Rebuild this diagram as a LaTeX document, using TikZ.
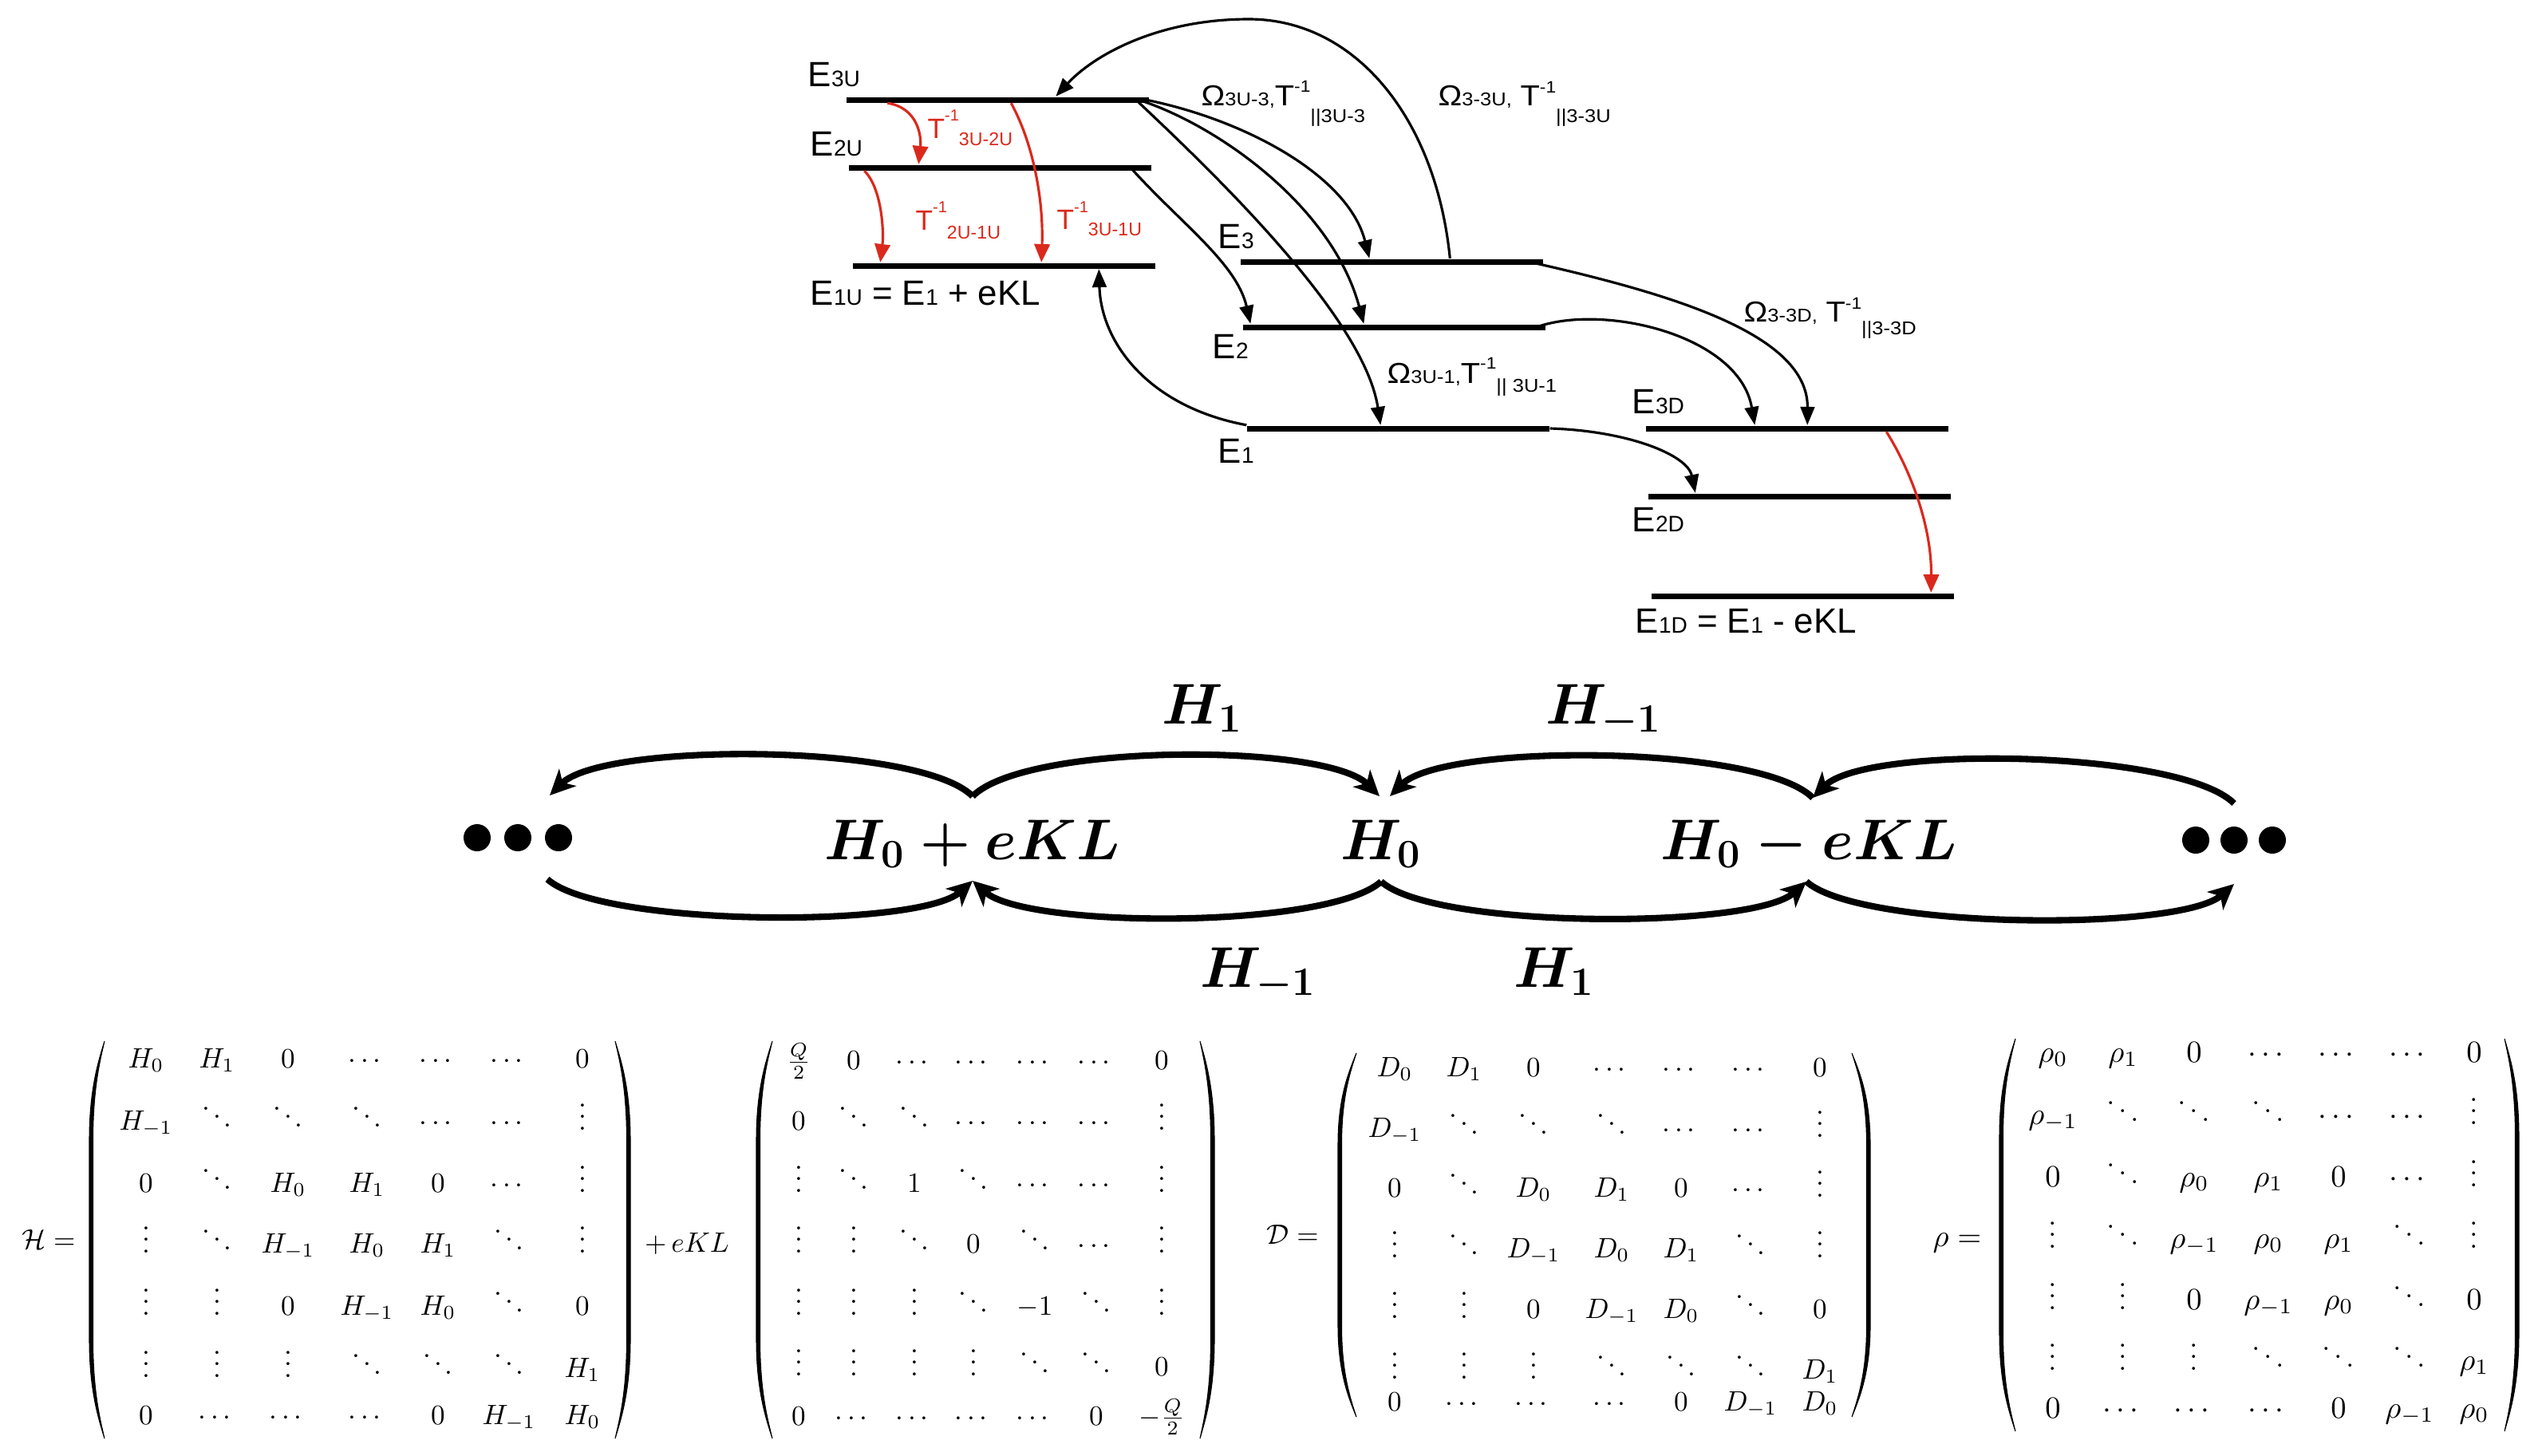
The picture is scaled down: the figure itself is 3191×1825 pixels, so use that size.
\documentclass[tikz,border=0pt]{standalone}
\usepackage{fix-cm}
\usepackage{amsmath}
\usepackage{fontspec}
\newfontfamily\labfont{Liberation Sans}
\newfontfamily\labfontw[FakeStretch=1.1]{Liberation Sans}
\usetikzlibrary{arrows.meta,calc}
\definecolor{tred}{RGB}{218,41,28}
\newcommand\Ebig{\fontsize{12.5}{14}\selectfont}
\newcommand\Esub{\fontsize{8}{9}\selectfont}
\newcommand\Obig{\fontsize{10.3}{12}\selectfont}
\newcommand\Osub{\fontsize{6.6}{7}\selectfont}
\newcommand\Osup{\fontsize{5.9}{6}\selectfont}
\newcommand\Tbig{\fontsize{10}{11}\selectfont}
\newcommand\Tsub{\fontsize{6.6}{7}\selectfont}
\newcommand\Tsup{\fontsize{5.7}{6}\selectfont}
\newcommand\mfontA{\fontsize{10}{12}\selectfont}
\newcommand\mfontB{\fontsize{11}{13}\selectfont}
\newcommand\placemat[5]{%
  \foreach \ent [count=\k from 0] in {#5} {%
    \pgfmathtruncatemacro\mr{div(\k,7)}%
    \pgfmathtruncatemacro\mc{mod(\k,7)}%
    \pgfmathsetmacro\mx{{#2}[\mc]}%
    \pgfmathsetmacro\my{{#3}[\mr]}%
    \node[mcell,font=#4] (#1-\mr-\mc) at (\mx,\my) {$\ent$};
  }}
% #1 end x, #2 outer x, #3 top y, #4 bottom y, #5 inner x
\newcommand\mparen[5]{%
  \filldraw[line width=0.3pt] (#1,#3)
   .. controls ({#1+0.4*(#2-#1)},{#3+0.05*(#4-#3)}) and (#2,{#3+0.12*(#4-#3)}) .. (#2,{#3+0.25*(#4-#3)})
   -- (#2,{#4-0.25*(#4-#3)})
   .. controls (#2,{#4-0.12*(#4-#3)}) and ({#1+0.4*(#2-#1)},{#4-0.05*(#4-#3)}) .. (#1,#4)
   .. controls ({#1+0.4*(#5-#1)},{#4-0.05*(#4-#3)}) and (#5,{#4-0.12*(#4-#3)}) .. (#5,{#4-0.25*(#4-#3)})
   -- (#5,{#3+0.25*(#4-#3)})
   .. controls (#5,{#3+0.12*(#4-#3)}) and ({#1+0.4*(#5-#1)},{#3+0.05*(#4-#3)}) .. (#1,#3) -- cycle;}
\tikzset{
  level/.style={fill=black, inner sep=0pt, minimum width=37.9mm, minimum height=0.7mm},
  elab/.style={anchor=base west, inner sep=0pt, font=\labfont},
  olab/.style={anchor=base west, inner sep=0pt, font=\labfontw},
  arr/.style={line width=0.9pt, -{Triangle[length=6.5pt,width=5pt]}},
  rarr/.style={line width=0.9pt, draw=tred, -{Triangle[length=6.5pt,width=5.5pt]}},
  chain/.style={line width=2.3pt, -{Stealth[length=9pt,width=8.5pt,inset=2.5pt]}},
  clab/.style={anchor=base, inner sep=0pt, font=\fontsize{20.5}{24}\selectfont\boldmath},
  bigdot/.style={circle, fill=black, inner sep=0pt, minimum size=3.4mm},
  mcell/.style={anchor=base, inner sep=0pt},
  mlab/.style={anchor=base, inner sep=0pt}
}
\begin{document}
\begin{tikzpicture}[x=0.1mm,y=-0.1mm]
\useasboundingbox (0,0) rectangle (3191,1825);

% ---------- energy levels ----------
\node[level] (L3U) at (1250.5,125) {};
\node[level] (L2U) at (1253.5,210) {};
\node[level] (L1U) at (1258.5,333) {};
\node[level] (L3)  at (1744.5,328) {};
\node[level] (L2)  at (1747.5,410) {};
\node[level] (L1)  at (1752.5,537) {};
\node[level] (L3D) at (2252.5,537) {};
\node[level] (L2D) at (2255,622) {};
\node[level] (L1D) at (2259.5,747) {};

\node[elab] (tE3U) at (1012,108) {\Ebig E{\Esub 3U}};
\node[elab] (tE2U) at (1015,195) {\Ebig E{\Esub 2U}};
\node[elab] (tE1U) at (1015,382) {\Ebig E{\Esub 1U} = E{\Esub 1} + eKL};
\node[elab] (tE3)  at (1526,311) {\Ebig E{\Esub 3}};
\node[elab] (tE2)  at (1519,449) {\Ebig E{\Esub 2}};
\node[elab] (tE1)  at (1526,580) {\Ebig E{\Esub 1}};
\node[elab] (tE3D) at (2045,518) {\Ebig E{\Esub 3D}};
\node[elab] (tE2D) at (2045,666) {\Ebig E{\Esub 2D}};
\node[elab] (tE1D) at (2049,793) {\Ebig E{\Esub 1D} = E{\Esub 1} - eKL};

\node[olab] (tO1) at (1505,132) {{\Obig Ω}{\Osub 3U-3,}{\Obig T}\raisebox{4.7pt}{\Osup -1}\raisebox{-6pt}{\Osub ||3U-3}};
\node[olab] (tO2) at (1802,132) {{\Obig Ω}{\Osub 3-3U,} {\Obig T}\raisebox{4.5pt}{\Osup -1}\raisebox{-6pt}{\Osub ||3-3U}};
\node[olab] (tO3) at (1738,480) {{\Obig Ω}{\Osub 3U-1,}{\Obig T}\raisebox{5pt}{\Osup -1}\raisebox{-3.4pt}{\Osub || 3U-1}};
\node[olab] (tO4) at (2185,403) {{\Obig Ω}{\Osub 3-3D,} {\Obig T}\raisebox{4.3pt}{\Osup -1}\raisebox{-4.8pt}{\Osub ||3-3D}};

\node[elab,text=tred] (tR1) at (1162,173) {\Tbig T\raisebox{6pt}{\Tsup -1}\raisebox{-2.8pt}{\Tsub 3U-2U}};
\node[elab,text=tred] (tR2) at (1147,288) {\Tbig T\raisebox{6pt}{\Tsup -1}\raisebox{-3.4pt}{\Tsub 2U-1U}};
\node[elab,text=tred] (tR3) at (1324,287) {\Tbig T\raisebox{5.7pt}{\Tsup -1}\raisebox{-2.3pt}{\Tsub 3U-1U}};

% black transitions
\draw[arr] ($(L3.north west)+(263,0)$) .. controls (1800,150) and (1700,24) .. (1565,24)
           .. controls (1450,24) and (1370,70) .. ($(L3U.north west)+(263,0)$);
\draw[arr] ($(L3U.east)+(-5,0)$) .. controls (1560,150) and (1690,220) .. ($(L3.north west)+(162,0)$);
\draw[arr] ($(L3U.east)+(-8,2)$) .. controls (1530,160) and (1670,260) .. ($(L2.north west)+(152,0)$);
\draw[arr] ($(L3U.east)+(-15,2)$) .. controls (1530,225) and (1710,400) .. ($(L1.north west)+(168,0)$);
\draw[arr] ($(L2U.east)+(-25,2)$) .. controls (1480,280) and (1550,330) .. ($(L2.north west)+(10,0)$);
\draw[arr] (L1.north west) .. controls (1440,510) and (1380,430) .. ($(L1U.south west)+(309,0)$);
\draw[arr] ($(L3.east)+(-10,2)$) .. controls (2100,370) and (2266,420) .. ($(L3D.north west)+(203,0)$);
\draw[arr] ($(L2.east)+(-12,0)$) .. controls (2010,380) and (2180,420) .. ($(L3D.north west)+(137,0)$);
\draw[arr] (L1.east) .. controls (2040,540) and (2115,570) .. ($(L2D.north west)+(60,0)$);

% red transitions
\draw[rarr] ($(L3U.south west)+(52,0)$) .. controls (1150,135) and (1155,170) .. ($(L2U.north west)+(88,0)$);
\draw[rarr] ($(L2U.south west)+(20,0)$) .. controls (1105,235) and (1108,290) .. ($(L1U.north west)+(35,0)$);
\draw[rarr] ($(L3U.south west)+(207,0)$) .. controls (1295,180) and (1308,250) .. ($(L1U.north west)+(237,0)$);
\draw[rarr] ($(L3D.south west)+(302,0)$) .. controls (2395,590) and (2421,660) .. ($(L1D.north west)+(351,0)$);

% ---------- chain ----------
\node[bigdot] (dL1) at (598,1050) {};
\node[bigdot] (dL2) at (649,1050) {};
\node[bigdot] (dL3) at (700,1050) {};
\node[bigdot] (dR1) at (2752,1053) {};
\node[bigdot] (dR2) at (2800,1053) {};
\node[bigdot] (dR3) at (2848,1053) {};
\node[clab] (Hp) at (1219,1077) {$H_0+eKL$};
\node[clab] (H0) at (1731,1077) {$H_0$};
\node[clab] (Hm) at (2267,1077) {$H_0-eKL$};
\node[clab] (lt1) at (1507,907) {$H_1$};
\node[clab] (lt2) at (2010,907) {$H_{-1}$};
\node[clab] (lb1) at (1577,1237) {$H_{-1}$};
\node[clab] (lb2) at (1948,1237) {$H_1$};

\coordinate (dLt) at ($(dL3)+(-11,-53)$);
\coordinate (dLb) at ($(dL3)+(-14,52)$);
\coordinate (Hpt) at ($(Hp.base)+(0,-79)$);
\coordinate (Hpb) at ($(Hp.base)+(0,27)$);
\coordinate (H0tl) at ($(H0.base)+(-2,-79)$);
\coordinate (H0tr) at ($(H0.base)+(11,-79)$);
\coordinate (H0b) at ($(H0.base)+(0,28)$);
\coordinate (Hmt) at ($(Hm.base)+(5,-77)$);
\coordinate (Hmb) at ($(Hm.base)+(-3,28)$);
\coordinate (dRt) at ($(dR2)+(0,-46)$);
\coordinate (dRb) at ($(dR2)+(0,55)$);

\draw[chain] (Hpt) .. controls +(-67,-67) and +(67,-67) .. (dLt);
\draw[chain] (Hpt) .. controls +(67,-67) and +(-67,-67) .. (H0tl);
\draw[chain] (Hmt) .. controls +(-67,-67) and +(67,-67) .. (H0tr);
\draw[chain] (dRt) .. controls +(-67,-67) and +(67,-67) .. (Hmt);
\draw[chain] (dLb) .. controls +(67,60) and +(-67,60) .. (Hpb);
\draw[chain] (H0b) .. controls +(-67,60) and +(67,60) .. (Hpb);
\draw[chain] (H0b) .. controls +(67,60) and +(-67,60) .. (Hmb);
\draw[chain] (Hmb) .. controls +(67,60) and +(-67,60) .. (dRb);

% ---------- matrices ----------
\node[mlab,font=\mfontA] (lH) at (61,1565) {$\mathcal{H} =$};
\mparen{131}{112}{1305}{1803}{116.5}
\mparen{771}{790}{1305}{1803}{785.5}
\placemat{MH}{183,272,361,460,549,638,730}{1338,1416,1494,1570,1648,1726,1785}{\mfontA}{%
H_0,H_1,0,\cdots,\cdots,\cdots,0,%
H_{-1},\ddots,\ddots,\ddots,\cdots,\cdots,\vdots,%
0,\ddots,H_0,H_1,0,\cdots,\vdots,%
\vdots,\ddots,H_{-1},H_0,H_1,\ddots,\vdots,%
\vdots,\vdots,0,H_{-1},H_0,\ddots,0,%
\vdots,\vdots,\vdots,\ddots,\ddots,\ddots,H_1,%
0,\cdots,\cdots,\cdots,0,H_{-1},H_0}

\node[mlab,font=\mfontA] (lK) at (861,1569) {$+\,eKL$};
\mparen{968}{948}{1305}{1803}{952.5}
\mparen{1504}{1522}{1305}{1803}{1517.5}
\placemat{MK}{1001,1070,1146,1220,1297,1374,1456}{1340,1416,1494,1570,1648,1724,1786}{\mfontA}{%
\frac{Q}{2},0,\cdots,\cdots,\cdots,\cdots,0,%
0,\ddots,\ddots,\cdots,\cdots,\cdots,\vdots,%
\vdots,\ddots,1,\ddots,\cdots,\cdots,\vdots,%
\vdots,\vdots,\ddots,0,\ddots,\cdots,\vdots,%
\vdots,\vdots,\vdots,\ddots,-1,\ddots,\vdots,%
\vdots,\vdots,\vdots,\vdots,\ddots,\ddots,0,%
0,\cdots,\cdots,\cdots,\cdots,0,-\frac{Q}{2}}

\node[mlab,font=\mfontA] (lD) at (1620,1559) {$\mathcal{D} =$};
\mparen{1700}{1677}{1320}{1776}{1681.5}
\mparen{2321}{2344}{1320}{1776}{2339.5}
\placemat{MD}{1748,1835,1922,2020,2107,2194,2281}{1349,1425,1500,1576,1652,1728,1768}{\mfontA}{%
D_0,D_1,0,\cdots,\cdots,\cdots,0,%
D_{-1},\ddots,\ddots,\ddots,\cdots,\cdots,\vdots,%
0,\ddots,D_0,D_1,0,\cdots,\vdots,%
\vdots,\ddots,D_{-1},D_0,D_1,\ddots,\vdots,%
\vdots,\vdots,0,D_{-1},D_0,\ddots,0,%
\vdots,\vdots,\vdots,\ddots,\ddots,\ddots,D_1,%
0,\cdots,\cdots,\cdots,0,D_{-1},D_0}

\node[mlab,font=\mfontB] (lR) at (2453,1562) {$\rho =$};
\mparen{2526}{2506}{1302}{1794}{2510.5}
\mparen{3139}{3157}{1302}{1794}{3152.5}
\placemat{MR}{2573,2661,2750,2843,2931,3020,3101}{1331,1409,1487,1564,1641,1717,1777}{\mfontB}{%
\rho_0,\rho_1,0,\cdots,\cdots,\cdots,0,%
\rho_{-1},\ddots,\ddots,\ddots,\cdots,\cdots,\vdots,%
0,\ddots,\rho_0,\rho_1,0,\cdots,\vdots,%
\vdots,\ddots,\rho_{-1},\rho_0,\rho_1,\ddots,\vdots,%
\vdots,\vdots,0,\rho_{-1},\rho_0,\ddots,0,%
\vdots,\vdots,\vdots,\ddots,\ddots,\ddots,\rho_1,%
0,\cdots,\cdots,\cdots,0,\rho_{-1},\rho_0}
\end{tikzpicture}
\end{document}
